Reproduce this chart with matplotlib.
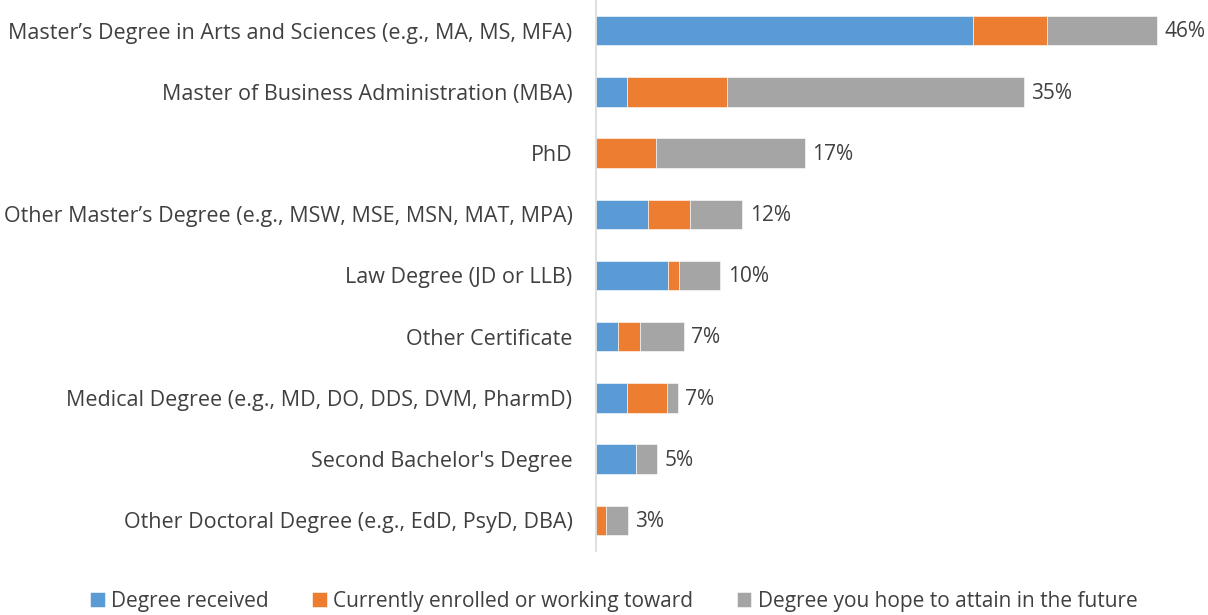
import matplotlib.pyplot as plt
import numpy as np

plt.rcParams['font.family'] = ['Open Sans', 'DejaVu Sans']

categories = [
    "Master\u2019s Degree in Arts and Sciences (e.g., MA, MS, MFA)",
    "Master of Business Administration (MBA)",
    "PhD",
    "Other Master\u2019s Degree (e.g., MSW, MSE, MSN, MAT, MPA)",
    "Law Degree (JD or LLB)",
    "Other Certificate",
    "Medical Degree (e.g., MD, DO, DDS, DVM, PharmD)",
    "Second Bachelor's Degree",
    "Other Doctoral Degree (e.g., EdD, PsyD, DBA)",
]
received = [30.9, 2.5, 0.0, 4.3, 5.9, 1.8, 2.5, 3.3, 0.0]
enrolled = [6.1, 8.2, 4.9, 3.4, 0.9, 1.8, 3.3, 0.0, 0.8]
hope = [9.0, 24.4, 12.2, 4.3, 3.4, 3.6, 0.9, 1.7, 1.8]
total_labels = ["46%", "35%", "17%", "12%", "10%", "7%", "7%", "5%", "3%"]

series = ["Degree received", "Currently enrolled or working toward",
          "Degree you hope to attain in the future"]
colors = ["#5B9BD5", "#ED7D31", "#A5A5A5"]

fig = plt.figure(figsize=(12.08, 6.15), dpi=100)
ax = fig.add_axes([596 / 1208, 1 - 551 / 615, 610 / 1208, 551 / 615])

y = np.arange(len(categories))
left = np.zeros(len(categories))
for vals, name, c in zip([received, enrolled, hope], series, colors):
    vals = np.array(vals)
    ax.barh(y, vals, left=left, height=0.48, color=c, label=name,
            edgecolor='white', linewidth=0.4)
    left += vals

for yi, tot, lab in zip(y, left, total_labels):
    ax.text(tot + 0.6, yi + 0.02, lab, va='center', ha='left', fontsize=15, color='#404040')

ax.set_xlim(0, 50)
ax.set_ylim(len(categories) - 0.5, -0.5)
ax.set_yticks(y)
ax.set_yticklabels(categories, fontsize=15.5, color='#404040')
ax.tick_params(axis='y', length=0, pad=17)
ax.set_xticks([])
for s in ['top', 'right', 'bottom']:
    ax.spines[s].set_visible(False)
ax.spines['left'].set_color('#D9D9D9')
ax.spines['left'].set_linewidth(1.2)

handles, labels = ax.get_legend_handles_labels()
leg = fig.legend(handles, labels, loc='center', bbox_to_anchor=(0.508, 0.022), ncol=3,
                 frameon=False, fontsize=15, handlelength=0.7, handleheight=0.7,
                 handletextpad=0.3, columnspacing=2.1, labelcolor='#404040')

fig.savefig('out.png', dpi=100)
